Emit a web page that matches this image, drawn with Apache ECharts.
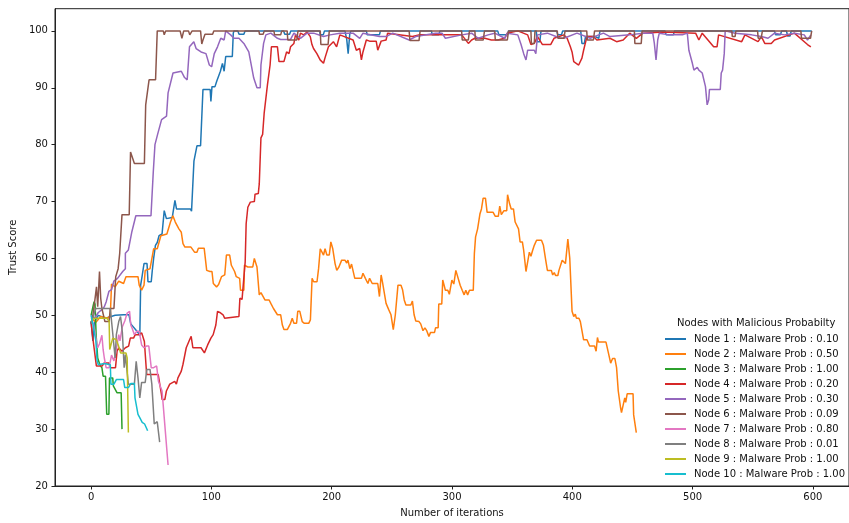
<!DOCTYPE html>
<html>
<head>
<meta charset="utf-8">
<script src="https://cdn.jsdelivr.net/npm/echarts@6/dist/echarts.min.js"></script>
<style>
html,body{margin:0;padding:0;background:#fff;}
#chart{width:849px;height:523px;}
</style>
</head>
<body>
<div id="chart"></div>
<script>
// ---- data ----
var seriesNames = [
  'Node 1 : Malware Prob : 0.10',
  'Node 2 : Malware Prob : 0.50',
  'Node 3 : Malware Prob : 1.00',
  'Node 4 : Malware Prob : 0.20',
  'Node 5 : Malware Prob : 0.30',
  'Node 6 : Malware Prob : 0.09',
  'Node 7 : Malware Prob : 0.80',
  'Node 8 : Malware Prob : 0.01',
  'Node 9 : Malware Prob : 1.00',
  'Node 10 : Malware Prob : 1.00'
];
var xTicks = [0, 100, 200, 300, 400, 500, 600];
var yTicks = [20, 30, 40, 50, 60, 70, 80, 90, 100];

var node1 = [[0,49],[1.5,45.5],[3,49],[6,50],[12,49.5],[20,50],[27,50.1],[31.5,50.1],[33,48.5],[39,47],[40.5,46.4],[41.2,55.3],[42.5,57],[44,59.1],[46.5,59.1],[47.3,55.9],[50,55.9],[50.8,57.7],[52,60],[53.5,62.3],[55,62.8],[56.5,64],[59,64.3],[60.8,68.4],[62.6,67],[67.5,67.2],[69.7,70.2],[71,68.7],[82.5,68.7],[83.5,68.3],[85.5,77.1],[88,79.8],[91,79.8],[93,89.7],[99,89.7],[99.6,87.6],[100.5,90.2],[103,90.2],[104.5,91.2],[106,91.4],[107.5,92.9],[109.2,94.3],[110.6,92.9],[111.9,95.5],[117.4,95.5],[118.2,99.6],[118.8,100],[122,100],[123,99.4],[127,99.4],[128,100],[160,100],[161,99.4],[165,99.4],[166,100],[190,100],[190.5,99.3],[193,99.3],[194,100],[211,100],[212.5,98.5],[213.7,96],[215,99.4],[216,100],[228.8,100],[229.5,99.3],[239.7,99.3],[240.5,100],[283,100],[283.5,99.3],[289,99.3],[290,100],[338,100],[339,99.3],[346,99.3],[347,100],[370,100],[371,98.1],[373,98.1],[374,100],[387,100],[388,99.3],[391,99.3],[392,100],[407,100],[408,97.8],[410,97.8],[411,99],[419,99],[420,98.7],[422,98.7],[423,100],[477,100],[478,99.3],[484,99.3],[485,100],[568,100],[569,99.3],[573,99.3],[574,100],[578,100],[579,99.1],[581,99.1],[582,100],[599,100]];

var node2 = [[0,49.5],[4,48.8],[8,49.8],[14,49.5],[16,50],[17,55.5],[20,55],[23,56],[27,55.6],[29,56.8],[39,56.8],[40,55.3],[42,54.4],[44,55.3],[45,57.9],[49,58.2],[52,61.7],[55,61.7],[58,64],[63,64.3],[66,66.4],[68,67.5],[70,66.4],[73,65.2],[75,64.6],[76.4,62.6],[78,62],[83,62],[84.6,61.7],[86,61.1],[88,61.1],[89.2,61.8],[94,61.8],[94.5,60.9],[96.1,57.9],[98.8,57.7],[100.5,57.7],[101.6,55.6],[104.3,55],[106,55.4],[108.4,56.8],[111.1,57.1],[112.5,60.6],[115.2,60.6],[116.6,58.8],[119.3,57.7],[120.7,56.8],[123.5,56.5],[124.2,54.4],[127,54.4],[127.5,58.8],[128.9,59.1],[130.3,58.5],[134.4,58.5],[135.7,60],[137.9,58.5],[139.8,53.6],[141.2,54],[142.5,54.2],[144.5,52.7],[148,52.7],[149.4,52.1],[151.6,51.2],[153,51.5],[154.9,50.1],[157.6,50.1],[159,48.3],[160.3,47.5],[163.1,47.5],[165.8,48.6],[167.2,49.5],[168.6,48.6],[170.8,48.6],[171.8,50.7],[173.5,50.7],[175.5,48.9],[177.3,48.6],[180.9,48.6],[182.3,49.2],[183.7,56.5],[185,55.9],[187.8,55.9],[189.1,58.2],[190.5,61.7],[192,61.7],[193.2,60.6],[194.5,61.7],[196,60.6],[198,60.6],[199.3,62.9],[200.9,61.7],[202.8,59.1],[204.2,57.9],[206,58.5],[208.3,59.7],[211,59.7],[212.5,59.2],[213.5,59.7],[215.1,58.2],[216.5,59],[218,59],[219.2,56.5],[224.7,56.5],[226,57.4],[228,56.5],[230.1,55.6],[231.5,56.5],[233.7,55.6],[238.3,55.6],[239.7,53.3],[241.1,57.1],[242.4,55.6],[245.2,52.1],[247.4,51],[249.3,50.1],[251.2,47.5],[252.9,50.1],[254.5,50.1],[255.1,55.3],[257.6,55.3],[258.9,54.5],[260.3,52.7],[261.7,51.8],[265.8,51.8],[267.1,52.5],[268.5,50.1],[269.9,49],[272.6,48.9],[274,48.5],[275.9,47.3],[277.5,47.8],[279,47.3],[280.8,46.3],[282.2,47],[285.5,47],[286.3,47.8],[288.5,47.8],[289,52],[291.5,52],[292.3,56.2],[293.3,56.2],[294.5,54.4],[296.5,54.4],[297.8,53.7],[299,53.7],[299.9,56.2],[301.5,55.5],[303.2,57.9],[304.5,57.8],[306.8,55.3],[308.5,54.4],[310.1,53.6],[311.5,54.4],[313,53.6],[314.5,54.4],[317.7,54.4],[318.6,60.9],[319.6,63.8],[321.3,65.2],[323.2,67.8],[324.5,68.7],[325.9,70.6],[327.8,70.6],[329.2,68.1],[334.2,68.1],[336,67.4],[338.5,67.4],[339.7,69.2],[341,67.7],[343.2,68.4],[345.5,68.4],[346.2,71.2],[347.9,69.6],[349.2,68.7],[351.1,68.7],[352.5,66.4],[354,66.2],[355.3,65.2],[356.6,62.9],[358.5,62.9],[359.6,61.4],[361.5,57.7],[363,57.9],[364.3,61.1],[365.6,60.4],[367,61.4],[368.4,62.3],[370.3,63.2],[374.4,63.2],[376,62.3],[377.9,59.7],[379.3,57.9],[382.6,57.9],[383.7,57.1],[385,57.5],[386.1,57],[388,57],[388.9,57.9],[390.5,57.9],[391.6,59.7],[393,59.7],[394.3,59.1],[396.3,63.4],[397.9,60],[399.8,50.7],[401.2,49.8],[402.5,50.2],[403.4,49.5],[405.5,49.5],[406.7,48.9],[408,49.1],[409.4,45.7],[412.2,45.7],[413,46],[414.4,44.6],[418.5,44.6],[419.8,43.7],[420.9,46.1],[421.8,45.3],[428,45.3],[430,43.4],[431.9,41.6],[433.5,42.4],[435.4,42.4],[436.8,40.8],[438.2,36.7],[439,36.7],[440.1,33.8],[440.9,32.9],[442.3,32.9],[443.6,35.5],[444.4,34.7],[445.6,36.2],[450.5,36.2],[451,32.5],[452.1,32.5],[453.2,29.4]];

var node3 = [[0,50],[1.5,51.5],[2.5,52.4],[3.3,52],[4.2,46.5],[5.5,42.5],[7.5,41.2],[9,40.8],[10,39.3],[12,39.3],[13,32.6],[14.8,32.6],[15.3,39],[18,39],[18.5,37.6],[20,37.6],[21.5,36.4],[25,36.4],[25.7,30]];

var node4 = [[0,48.9],[1.1,46.6],[2.5,46.6],[4.4,41.1],[9.3,41.1],[10.7,41.6],[14.8,41.6],[16.2,40.8],[20.3,40.8],[21.6,43.7],[23,44.3],[25.7,43.7],[28.5,44.3],[31.2,44.6],[32.6,46],[35.3,46],[36.7,46.6],[39.4,46.6],[42.1,46.9],[44.3,45.4],[46.2,39.6],[55.8,39.6],[58.5,36.1],[59.1,35.2],[61.3,35.2],[62.6,36.7],[65.4,37.9],[69.5,38.4],[70.9,37.9],[72.2,39],[75,40.2],[76.4,41.4],[79.1,44.3],[81.9,45.7],[83.2,46.3],[84.6,44.3],[91.4,44.3],[94.2,43.4],[96.9,44.8],[99.6,46],[101.5,46.6],[103.7,48.3],[105.1,50.7],[107,50.5],[109.7,50.1],[111,49.5],[122.9,49.8],[123.7,53],[125.5,52.8],[126.7,55.9],[128.1,59.4],[128.9,66.1],[130.3,69],[132.4,69.9],[135.7,70],[136.3,71.3],[139,71.4],[139.8,73.1],[141.2,81.2],[142.6,81.8],[143.9,85.6],[145.3,85.8],[146.6,90.5],[148,90.8],[148.8,94],[149.9,97.2],[154.9,97.2],[156.2,94.6],[160.3,94.6],[162.5,96.3],[164.5,96],[165.8,97.2],[168.6,97.8],[169.9,99.3],[172.7,98.4],[174,99.6],[176.8,99.3],[179.5,99.8],[182.2,99],[183.6,97.6],[184.9,96.9],[187.7,96],[190.4,94.9],[193.2,94.3],[194.5,95.3],[197.3,97.2],[201.4,98.1],[204.1,97.2],[206.8,99.3],[217.8,98.4],[220.5,96.6],[221.9,96.3],[223.3,96.9],[224.7,94.9],[226,96.3],[227.4,96.6],[228.8,98.4],[231.5,98.2],[237,98.2],[238.3,96.6],[239.7,96.6],[241.1,98.2],[245.2,98.4],[246.5,99.6],[267.1,99],[272.5,99.3],[308.1,99.3],[313.6,97.8],[316.3,98.4],[319,98.7],[327.3,98.7],[332.7,98.4],[338.2,98.4],[343.7,98.7],[346,99.6],[354.7,100],[362.9,99.3],[365.6,97.6],[368.4,97.8],[371.1,99],[375.2,97.6],[382,97.6],[384.8,98.7],[393,99.3],[395.7,98.7],[398.4,97.2],[399.8,96.3],[401.2,94.6],[402.5,94.3],[405.3,94],[406.7,94.3],[408,95.2],[409.4,96.6],[410.8,97.8],[412.2,99],[417.6,99],[420.4,98.4],[431.3,98.7],[436.8,98.1],[442.3,98.4],[447.7,99.6],[453.2,98.7],[458.7,99.6],[475.1,99.8],[502.5,99.6],[505.2,98.4],[508,99.6],[517.5,97.2],[520.3,97.2],[521.6,99.3],[540.8,98.1],[543.5,99.3],[554.4,98.1],[557.2,99],[560,97.8],[565.4,97.8],[568.1,98.4],[584.6,99.6],[595.5,97.6],[598.3,97.2]];

var node5 = [[0,50],[3,49.5],[6,50.5],[9,51],[11,51.5],[12.6,52.4],[14.8,54.2],[17,54.5],[18.9,56],[22,56.5],[23.5,56.5],[26.3,57.7],[28.5,58.2],[28.5,60.9],[31,61.5],[33.9,64.7],[35.5,64.7],[37.2,67.5],[49.8,67.5],[51.7,75.2],[53.1,80],[55.3,81.8],[58.6,84.4],[62.7,85],[64,89.1],[68.1,92.6],[75,92.9],[77.7,91.8],[79.9,91.4],[81.8,97.2],[85.4,98.1],[87.3,96.9],[91.4,96.3],[95.5,96],[98.3,94],[100.2,93.7],[102.4,96],[105.1,97.2],[107.8,98.7],[110.6,98.4],[111.9,100],[116,99.3],[118.8,98.7],[122.9,98.7],[127,97.8],[131.1,96.3],[135.2,91.7],[137.9,90],[140.6,90],[141.2,94],[143.4,97.8],[145.3,99.3],[149.4,99.6],[154.9,98.7],[157.6,98.5],[165.8,98.5],[168.6,99.6],[174,98.7],[179.5,99.6],[185,99.6],[193.2,99],[198.7,99.3],[206.9,99.6],[217.8,99.6],[223.3,98.7],[226,99.6],[239.7,99],[245.2,99],[250.7,99.6],[264.4,98.4],[269.9,99],[286.3,99.6],[291.7,99.6],[294.5,98.7],[308.1,99.3],[316.3,99.6],[321.8,98.7],[330,99.3],[335.5,99.6],[343.8,98.7],[346,99.6],[354.7,99.3],[357.4,97.6],[359.6,96],[361.5,94.9],[362.9,96.6],[368.4,96.6],[369.7,96],[371.1,99.3],[379.3,99.6],[390.2,98.7],[393,98.7],[403.9,99.6],[414.9,98.7],[425.9,99.6],[431.3,99],[447.7,99.3],[458.7,99.6],[466.9,99.6],[468.2,97.8],[469.6,94.9],[471,98.4],[472.3,99.6],[480.5,99.3],[491.5,99.3],[495.6,99.6],[496.9,96.6],[499.8,94.3],[501.1,93.1],[503.9,93.6],[505.2,93.1],[508,92.6],[509.3,92.3],[510.7,90.2],[512.1,87],[513.4,87.9],[514,89.7],[523,89.7],[523.8,92.6],[524.9,93.1],[526.3,96],[527.1,100],[535.3,99.6],[549,99.3],[557.2,99],[562.7,98.7],[568.1,99.6],[576.4,99.3],[584.6,99.6],[592.8,99.3],[595.5,98.4],[598.3,99.3]];

var node6 = [[0,48.5],[1.5,50],[3,52.4],[4.5,55],[5.5,51.5],[7,57.7],[8,53],[9,51.2],[11.5,48.9],[15,48.9],[16,51.2],[19,51.2],[20,55],[20.5,56.8],[22,56.8],[22.5,58.2],[23.8,60.9],[25,60.9],[25.7,67.7],[31.7,67.7],[32.8,78.7],[34,78.5],[36,76.7],[44.3,76.7],[45.4,87],[48.2,91.4],[53.6,91.4],[55,100],[60,100],[60.8,99.3],[62,100],[74,100],[75.5,98.7],[77,100],[81,100],[82,99.3],[84,100],[91,100],[92,97.7],[93,98.4],[94.7,99.4],[101,99.4],[102,100],[139.5,100],[140,99.4],[143,99.4],[144,100],[152,100],[152.5,99.3],[157.6,99.3],[158.5,100],[163,100],[163.5,98.4],[171,98.4],[172,100],[190.5,100],[191,97.6],[197,97.6],[198,100],[264.4,100],[265,98.3],[272.6,98.3],[273.5,100],[308,100],[308.5,98.4],[313.6,98.4],[314.5,100],[319,100],[319.5,98.4],[326,98.4],[327,100],[335.5,100],[336,98.4],[346,98.4],[347,100],[365.6,100],[366,97.8],[368.4,97.8],[369,100],[387.5,100],[388,98.7],[393,98.7],[394,100],[412,100],[412.5,98.4],[417.6,98.4],[418.5,100],[451.6,100],[452,97.8],[457.3,97.8],[458,100],[532.6,100],[533,99],[535.3,99],[536,100],[554,100],[554.5,98.7],[557,98.7],[558,100],[590,100],[590.5,98.7],[598,98.7],[599,100]];

var node7 = [[0,49],[2,48.5],[4,46],[5.5,44.3],[7,45],[9,46.5],[10,44],[11,42.5],[12.5,40.8],[15,40.8],[17,43],[19,42],[21,44],[23,46.6],[24,45.5],[26,48],[28,49],[30,50.4],[32,50.7],[33,48.3],[34,47.8],[36,46.6],[38,47.2],[40,47.2],[42,44.8],[44,44.3],[46,44.6],[48,44.6],[50,40.8],[52,40.8],[53,41.1],[54.5,41.1],[56,38.4],[59,36.7],[61,31.5],[62.5,31.2],[64,23.7]];

var node8 = [[0,48.5],[2,50],[4,51.2],[10,51.2],[16,51.2],[17,49],[20,42.5],[21,46.6],[23,48.9],[24.5,49.8],[26,47],[27.5,40.8],[28.5,43.1],[30,43.1],[31,37.9],[36,37.9],[37.5,41.9],[39,39],[40.5,35.5],[42,38.2],[45,38.2],[46.3,40.5],[49,40.5],[50.5,37.9],[52,37.9],[52.5,30.9],[55,31.3],[57,27.7]];

var node9 = [[0,49],[3,49.5],[8,49.5],[13,49.5],[15,49],[15.5,44],[17,44],[18,46],[21,45.7],[23,44.5],[24.5,43.4],[29,43.4],[30,42.5],[31,29.4]];

var node10 = [[0,50],[2,48],[4,45.4],[5,42],[6,41.3],[10,41.5],[12,41.5],[16,41.3],[16.5,37.9],[19,37.9],[20,38.2],[21,38.7],[27,38.7],[28,37.3],[31,37.3],[33,38],[36,38],[36.5,35.5],[38,35.3],[39,32.6],[41,31.8],[42.5,31.2],[44.5,30.9],[46,30.2],[47,29.7]];

var allData = [node1, node2, node3, node4, node5, node6, node7, node8, node9, node10];
var colors = ['#1f77b4','#ff7f0e','#2ca02c','#d62728','#9467bd','#8c564b','#e377c2','#7f7f7f','#bcbd22','#17becf'];

var FONT = 'DejaVu Sans';
var chart = echarts.init(document.getElementById('chart'), null, {renderer: 'canvas'});

var series = allData.map(function (d, i) {
  return {
    name: seriesNames[i],
    type: 'line',
    data: d,
    showSymbol: false,
    symbol: 'none',
    color: colors[i],
    lineStyle: {width: 1.5, color: colors[i]},
    emphasis: {disabled: true},
    animation: false,
    clip: true
  };
});

chart.setOption({
  animation: false,
  backgroundColor: '#fff',
  textStyle: {fontFamily: FONT},
  title: {
    text: 'Nodes with Malicious Probabilty',
    left: 677, top: 318, padding: 0,
    textStyle: {fontSize: 10, fontWeight: 'normal', color: '#111', fontFamily: FONT}
  },
  legend: {
    orient: 'vertical',
    left: 665, top: 333, padding: 0,
    itemWidth: 21, itemHeight: 2, itemGap: 3,
    icon: 'rect',
    selectedMode: false,
    data: seriesNames,
    textStyle: {fontSize: 10, lineHeight: 12, color: '#111', fontFamily: FONT, padding: [0, 0, 0, 3]}
  },
  grid: {
    left: 51.5, right: -6.5, top: 8.7, bottom: 34,
    show: true, borderColor: '#222', borderWidth: 1, backgroundColor: 'transparent',
    containLabel: false
  },
  xAxis: {
    type: 'value', min: -30, max: 630,
    name: 'Number of iterations', nameLocation: 'middle', nameGap: 22,
    nameTextStyle: {fontSize: 10, color: '#111', fontFamily: FONT},
    axisLine: {show: true, onZero: false, lineStyle: {color: '#222', width: 1}},
    axisTick: {show: true, length: 3.5, customValues: xTicks, lineStyle: {color: '#222'}},
    axisLabel: {fontSize: 10, color: '#111', margin: 6, customValues: xTicks, fontFamily: FONT},
    splitLine: {show: false}
  },
  yAxis: {
    type: 'value', min: 20, max: 103.9,
    name: 'Trust Score', nameLocation: 'middle', nameGap: 27, nameRotate: 90,
    nameTextStyle: {fontSize: 10, color: '#111', fontFamily: FONT},
    axisLine: {show: true, onZero: false, lineStyle: {color: '#222', width: 1}},
    axisTick: {show: true, length: 3.5, customValues: yTicks, lineStyle: {color: '#222'}},
    axisLabel: {fontSize: 10, color: '#111', margin: 7, customValues: yTicks, fontFamily: FONT},
    splitLine: {show: false}
  },
  series: series
});
</script>
</body>
</html>
